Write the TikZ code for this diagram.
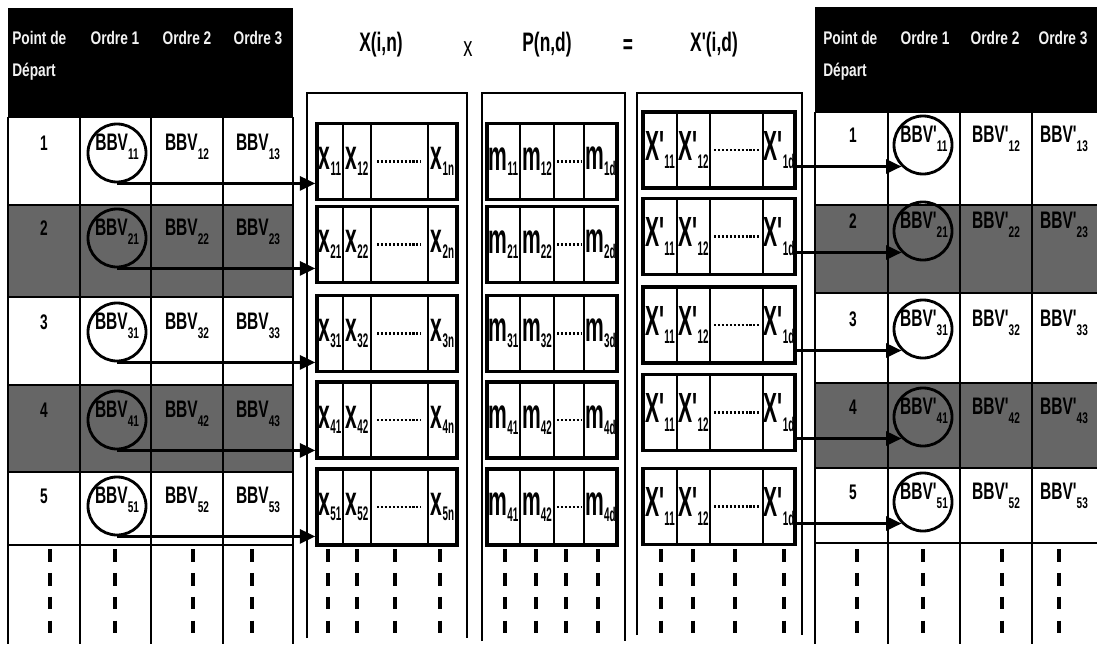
\documentclass[tikz,border=0pt]{standalone}
\usepackage{fontspec}
\usetikzlibrary{arrows.meta}

\newfontfamily\tabfont{Liberation Sans}[FakeStretch=0.65]
\newfontfamily\headfont{Liberation Sans}[FakeStretch=0.75]
\newfontfamily\cellfont{Liberation Sans}[FakeStretch=0.5]
\newcommand{\tabidx}[1]{\raisebox{-7pt}{\fontsize{11}{11}\selectfont #1}}
\newcommand{\cellidx}[2][-4pt]{\raisebox{#1}{\fontsize{14}{14}\selectfont #2}}

\begin{document}
\begin{tikzpicture}[
    x=0.025cm, y=-0.025cm,
    head/.style={fill=black},
    darkrow/.style={fill=black!60},
    headtxt/.style={text=gray!10, font=\headfont\bfseries\fontsize{13}{23}\selectfont, inner sep=0pt},
    gridline/.style={line width=2pt},
    num/.style={font=\tabfont\bfseries\fontsize{15}{15}\selectfont, anchor=base, inner sep=0pt},
    bbv/.style={font=\tabfont\bfseries\fontsize{17}{17}\selectfont, anchor=base, inner sep=0pt},
    ring/.style={circle, draw, line width=2pt, minimum size=1.45cm, inner sep=0pt},
    matframe/.style={line width=1.6pt},
    rowbox/.style={rectangle, draw, line width=2.4pt, minimum height=1.9cm, inner sep=0pt},
    divider/.style={line width=1.2pt},
    cell/.style={font=\cellfont\bfseries\fontsize{30}{30}\selectfont, inner sep=0pt},
    dotline/.style={line width=1.6pt, dash pattern=on 1.5pt off 1.3pt},
    title/.style={font=\tabfont\bfseries\fontsize{19}{19}\selectfont, inner sep=0pt},
    vdash/.style={line width=3.2pt, dash pattern=on 9pt off 8pt},
    arrow/.style={-{Triangle[length=11pt,width=10pt]}, line width=2pt}
]
\useasboundingbox (0,0) rectangle (1097,644);
\fill[white] (0,0) rectangle (1097,644);

% Headers and shaded rows
\fill[head] (8,8) rectangle (293,117);
\fill[head] (815,7) rectangle (1097,112);
\fill[darkrow] (8,205) rectangle (293,297);
\fill[darkrow] (8,385) rectangle (293,472);
\fill[darkrow] (815,205) rectangle (1097,293);
\fill[darkrow] (815,383) rectangle (1097,468);

% Table grids
\foreach \gx in {8,80,151,223,293} \draw[gridline] (\gx,117) -- (\gx,644);
\foreach \gy in {117,205,297,385,472,545} \draw[gridline] (8,\gy) -- (293,\gy);
\foreach \gx in {815,888,960,1032} \draw[gridline] (\gx,112) -- (\gx,644);
\foreach \gy in {112,205,293,383,468,543} \draw[gridline] (815,\gy) -- (1097,\gy);

% Header labels
\node[headtxt, anchor=north west, align=left] (lpoint) at (12,31) {Point de\\Départ};
\node[headtxt, anchor=north] (lord1) at (115,31) {Ordre 1};
\node[headtxt, anchor=north] (lord2) at (187,31) {Ordre 2};
\node[headtxt, anchor=north] (lord3) at (258,31) {Ordre 3};
\node[headtxt, anchor=north west, align=left] (rpoint) at (823,31) {Point de\\Départ};
\node[headtxt, anchor=north] (rord1) at (925,31) {Ordre 1};
\node[headtxt, anchor=north] (rord2) at (995,31) {Ordre 2};
\node[headtxt, anchor=north] (rord3) at (1063,31) {Ordre 3};

% Titles
\node[title] (tx) at (381,45) {X(i,n)};
\node[font=\tabfont\fontsize{20}{20}\selectfont, inner sep=0pt] (times) at (468,49) {x};
\node[title] (tp) at (547,45) {P(n,d)};
\node[title] (equals) at (628,47) {=};
\node[title] (txp) at (714,45) {X'(i,d)};

% Matrix frames
\draw[matframe] (307,638) -- (307,93) -- (467,93) -- (467,638);
\draw[matframe] (482,641) -- (482,93) -- (625,93) -- (625,641);
\draw[matframe] (637,635) -- (637,93) -- (802,93) -- (802,635);

% Left table rows
\foreach \rw/\cy in {1/153, 2/238, 3/332, 4/420, 5/506} {
  \node[num] (lnum\rw) at (44,\cy-3) {\rw};
  \node[ring] (lring\rw) at (117,\cy) {};
  \node[bbv] (lbbv\rw1) at (117,\cy-3) {BBV\tabidx{\rw1}};
  \node[bbv] (lbbv\rw2) at (187,\cy-3) {BBV\tabidx{\rw2}};
  \node[bbv] (lbbv\rw3) at (258,\cy-3) {BBV\tabidx{\rw3}};
}

% Right table rows
\foreach \rw/\cy in {1/145, 2/231, 3/329, 4/417, 5/502} {
  \node[num] (rnum\rw) at (853,\cy-3) {\rw};
  \node[ring] (rring\rw) at (923,\cy) {};
  \node[bbv] (rbbv\rw1) at (924,\cy-3) {BBV'\tabidx{\rw1}};
  \node[bbv] (rbbv\rw2) at (996,\cy-3) {BBV'\tabidx{\rw2}};
  \node[bbv] (rbbv\rw3) at (1064,\cy-3) {BBV'\tabidx{\rw3}};
}

% Matrix rows
\foreach \rw/\ya/\yb/\m in {1/161.5/150/1, 2/244.5/236.5/2, 3/333.5/325/3, 4/420/412.5/4, 5/507/506.5/4} {
  \node[rowbox, minimum width=3.5cm] (xrow\rw) at (387,\ya) {};
  \node[rowbox, minimum width=3.25cm] (prow\rw) at (552,\ya) {};
  \node[rowbox, minimum width=3.8cm] (xprow\rw) at (719,\yb) {};
  \foreach \sx in {343,371,428,520,554,584} \draw[divider] (\sx,\ya-38) -- (\sx,\ya+38);
  \foreach \sx in {677,710,763} \draw[divider] (\sx,\yb-38) -- (\sx,\yb+38);
  \node[cell] (xc\rw1) at (330,\ya) {x\cellidx{\rw1}};
  \node[cell] (xc\rw2) at (357,\ya) {x\cellidx{\rw2}};
  \draw[dotline] (377,\ya) -- (421,\ya);
  \node[cell] (xc\rw4) at (442.5,\ya) {x\cellidx{\rw n}};
  \node[cell] (pc\rw1) at (503.5,\ya) {m\cellidx{\m1}};
  \node[cell] (pc\rw2) at (537,\ya) {m\cellidx{\m2}};
  \draw[dotline] (557,\ya) -- (582,\ya);
  \node[cell] (pc\rw4) at (600.5,\ya) {m\cellidx{\m d}};
  \node[cell] (xpc\rw1) at (660,\yb) {X'\cellidx[-6pt]{11}};
  \node[cell] (xpc\rw2) at (693.5,\yb) {X'\cellidx[-6pt]{12}};
  \draw[dotline] (714,\yb) -- (759,\yb);
  \node[cell] (xpc\rw4) at (779,\yb) {X'\cellidx[-6pt]{1d}};
}

% Arrows
\foreach \rw in {1,...,5} {
  \draw[arrow] (lring\rw.south) -- (lring\rw.south -| xrow\rw.west);
  \draw[arrow] (xprow\rw.east |- rring\rw.225) -- (rring\rw.225);
}

% Continuation dashes
\foreach \dx in {50,115,193,252,328,357,395,440,505,536,566,598,661,693,735,784,857,923,1002,1059}
  \draw[vdash] (\dx,549) -- (\dx,644);

\end{tikzpicture}
\end{document}
